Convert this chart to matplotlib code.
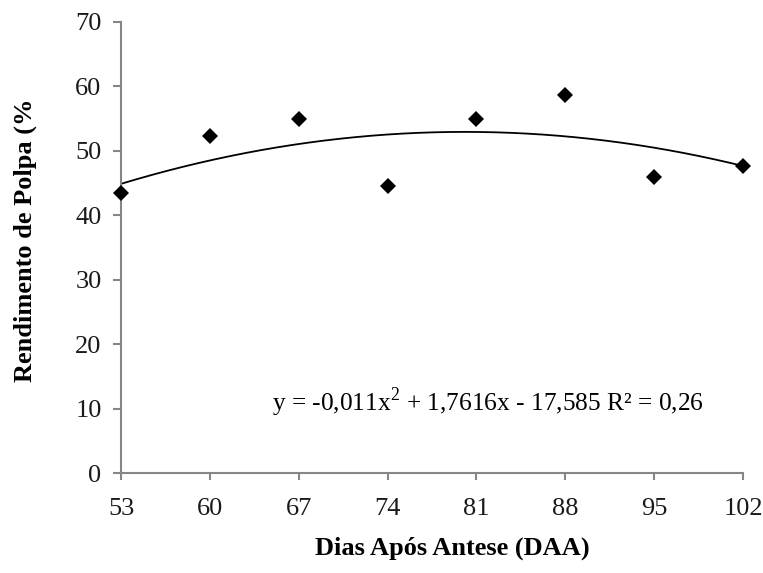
import numpy as np
import matplotlib
matplotlib.use("Agg")
import matplotlib.pyplot as plt

# Days after anthesis and pulp yield (%)
dias = [53, 60, 67, 74, 81, 88, 95, 102]
rendimento = [43.4, 52.3, 55.0, 44.6, 55.0, 58.7, 46.0, 47.6]

# Quadratic fit coefficients
coef_a, coef_b, coef_c = -0.011, 1.7616, -17.585
equacao = "y = -0,011x$^2$ + 1,7616x - 17,585 R² = 0,26"

plt.rcParams["font.family"] = ["Liberation Serif", "DejaVu Serif"]
plt.rcParams["mathtext.fontset"] = "custom"
plt.rcParams["mathtext.rm"] = "Liberation Serif"

fig = plt.figure(figsize=(7.63, 5.73), dpi=100)
ax = fig.add_axes([121 / 763, 100 / 573, (743 - 121) / 763, (473 - 22) / 573])

xs = np.linspace(min(dias), max(dias), 200)
ax.plot(xs, coef_a * xs**2 + coef_b * xs + coef_c, color="black", lw=1.3, zorder=2)
ax.plot(dias, rendimento, linestyle="none", marker="D", ms=8, color="black",
        markeredgewidth=0, zorder=3, clip_on=False)

ax.set_xlim(53, 102)
ax.set_ylim(0, 70)
ax.set_xticks(dias)
ax.set_yticks(range(0, 71, 10))

axis_gray = "#868686"
for side in ("top", "right"):
    ax.spines[side].set_visible(False)
for side in ("left", "bottom"):
    ax.spines[side].set_color(axis_gray)
    ax.spines[side].set_linewidth(1.5)
ax.tick_params(axis="both", direction="out", width=1.5, color=axis_gray,
               labelsize=19, labelcolor="#1a1a1a")
ax.tick_params(axis="x", length=5, pad=13)
ax.tick_params(axis="y", length=6, pad=8)

fig.text(452 / 763, 1 - 548 / 573, "Dias Após Antese (DAA)", ha="center", va="center",
         fontsize=19, fontweight="bold")
fig.text(25 / 763, 1 - 382 / 573, "Rendimento de Polpa (%", rotation=90, ha="center",
         va="bottom", fontsize=19, fontweight="bold")
fig.text(488 / 763, 1 - 403 / 573, equacao, ha="center", va="center", fontsize=18.3)

fig.savefig("out.png", dpi=100)
